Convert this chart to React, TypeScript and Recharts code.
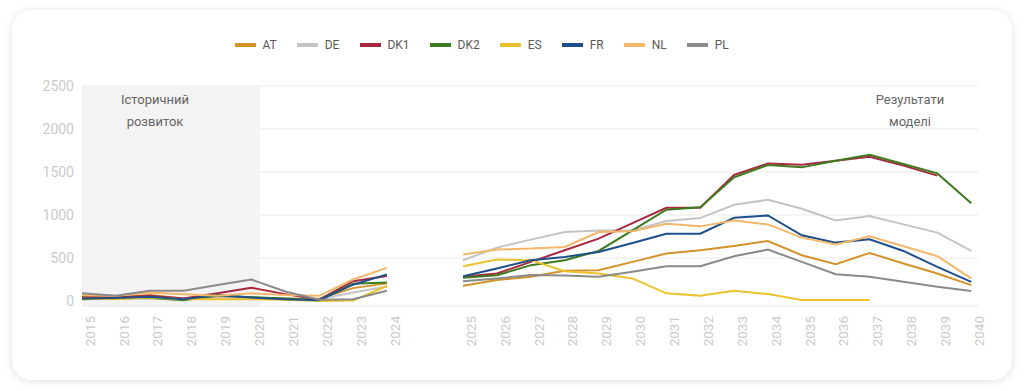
import React from 'react';
import { LineChart, Line, XAxis, YAxis, CartesianGrid, Legend, ReferenceArea } from 'recharts';

// ---- data ----
const histYears = [2015, 2016, 2017, 2018, 2019, 2020, 2021, 2022, 2023, 2024];
const modelYears = [2025, 2026, 2027, 2028, 2029, 2030, 2031, 2032, 2033, 2034, 2035, 2036, 2037, 2038, 2039, 2040];

const seriesNames = ['AT', 'DE', 'DK1', 'DK2', 'ES', 'FR', 'NL', 'PL'];
const seriesColors = ['#D4922A', '#C4C4C4', '#A8283F', '#3E7B1F', '#EBC12C', '#1F4F8A', '#F2B76A', '#8A8A8A'];

const histAT = [55, 45, 70, 30, 55, 40, 30, 25, 150, 205];
const histDE = [30, 30, 40, 30, 40, 30, 20, 20, 100, 170];
const histDK1 = [40, 40, 60, 30, 90, 155, 80, 15, 230, 290];
const histDK2 = [20, 30, 35, 10, 60, 45, 30, 10, 200, 215];
const histES = [30, 20, 40, 20, 20, 20, 15, 0, 5, 175];
const histFR = [30, 35, 50, 20, 70, 40, 20, 10, 190, 310];
const histNL = [70, 60, 100, 80, 60, 90, 70, 60, 250, 385];
const histPL = [90, 60, 120, 120, 185, 250, 110, 15, 20, 120];

const modelAT = [177, 243, 281, 351, 359, 455, 552, 590, 640, 698, 532, 428, 559, 436, 320, 185];
const modelDE = [474, 621, 714, 802, 821, 821, 929, 964, 1119, 1177, 1072, 937, 987, 891, 795, 582];
const modelDK1 = [281, 320, 455, 590, 725, 906, 1084, 1084, 1466, 1600, 1585, 1631, 1678, 1574, 1458, null];
const modelDK2 = [270, 300, 417, 474, 582, 821, 1061, 1090, 1438, 1582, 1554, 1631, 1700, 1593, 1484, 1137];
const modelES = [405, 482, 475, 347, 320, 263, 89, 61, 119, 81, 12, 12, 12, null, null, null];
const modelFR = [289, 378, 474, 513, 571, 675, 783, 783, 968, 995, 764, 679, 717, 582, 397, 223];
const modelNL = [540, 598, 610, 628, 802, 810, 899, 868, 937, 891, 737, 656, 752, 636, 521, 263];
const modelPL = [231, 263, 301, 297, 281, 339, 405, 405, 521, 598, 455, 312, 281, 223, 165, 116];

const yTicks = [0, 500, 1000, 1500, 2000, 2500];
const gridValues = [500, 1000, 1500, 2000, 2500];

const histLabel = ['Історичний', 'розвиток'];
const modelLabel = ['Результати', 'моделі'];

// gap (in year-steps) between the historic block and the model block
const GAP = 2.25;
const histPos = (i: number) => i;
const modelPos = (j: number) => histYears.length - 1 + GAP + j;

const histSeries = [histAT, histDE, histDK1, histDK2, histES, histFR, histNL, histPL];
const modelSeries = [modelAT, modelDE, modelDK1, modelDK2, modelES, modelFR, modelNL, modelPL];

const histData = histYears.map((year, i) => {
  const row: any = { pos: histPos(i), year };
  seriesNames.forEach((n, k) => (row[n] = histSeries[k][i]));
  return row;
});
const modelData = modelYears.map((year, j) => {
  const row: any = { pos: modelPos(j), year };
  seriesNames.forEach((n, k) => (row[n] = modelSeries[k][j]));
  return row;
});
const allRows = [...histData, ...modelData];
const xTicks = allRows.map((r) => r.pos);
const yearAt = (p: number) => {
  const r = allRows.find((row) => Math.abs(row.pos - p) < 1e-6);
  return r ? r.year : '';
};

const FONT = 'Roboto, "Noto Sans", Arial, sans-serif';

const XTick = (props: any) => {
  const { x, y, payload } = props;
  const tx = x + 8;
  return (
    <text
      x={tx}
      y={y}
      transform={`rotate(-90, ${tx}, ${y})`}
      textAnchor="end"
      dy="0.35em"
      fill="#cacaca"
      fontSize={13.5}
      fontFamily={FONT}
    >
      {yearAt(payload.value)}
    </text>
  );
};

const LegendContent = (props: any) => {
  const { payload } = props;
  const seen = new Set<string>();
  const items = (payload || []).filter((p: any) => {
    if (p.type === 'none' || seen.has(p.value)) return false;
    seen.add(p.value);
    return true;
  });
  return (
    <div style={{ display: 'flex', alignItems: 'center', height: 18, fontFamily: FONT }}>
      {items.map((p: any) => (
        <div key={p.value} style={{ display: 'flex', alignItems: 'center', marginRight: 20.5 }}>
          <span style={{ display: 'inline-block', width: 21, height: 3.5, background: p.color, marginRight: 6.5 }} />
          <span style={{ fontSize: 12, color: '#5a5a5a', lineHeight: '18px' }}>{p.value}</span>
        </div>
      ))}
    </div>
  );
};

const annoStyle: React.CSSProperties = {
  position: 'absolute',
  width: 140,
  textAlign: 'center',
  fontFamily: FONT,
  fontSize: 13,
  color: '#666',
  lineHeight: '21.5px',
};

export default function App() {
  return (
    <div style={{ position: 'absolute', left: 0, top: 0, width: 1024, height: 391, background: '#ffffff', overflow: 'hidden' }}>
      <div
        style={{
          position: 'absolute',
          left: 12,
          top: 10,
          width: 1000,
          height: 370,
          borderRadius: 20,
          background: '#fff',
          boxShadow: '0 1px 9px rgba(0,0,0,0.13)',
        }}
      />
      <div style={{ position: 'absolute', left: 0, top: 0 }}>
        <LineChart width={1024} height={391} margin={{ top: 68, right: 46, bottom: 0, left: 0 }}>
          <ReferenceArea x1={histPos(0)} x2={histPos(5) + 0.25} fill="#f3f3f3" fillOpacity={1} stroke="none" ifOverflow="hidden" />
          <CartesianGrid vertical={false} stroke="#e9e9e9" horizontalValues={gridValues} />
          <XAxis
            type="number"
            dataKey="pos"
            domain={[0, 26.45]}
            ticks={xTicks}
            interval={0}
            tick={<XTick />}
            tickLine={false}
            tickSize={0}
            tickMargin={10}
            axisLine={{ stroke: '#e6e6e6' }}
            height={85}
            allowDataOverflow
          />
          <YAxis
            domain={[-58, 2500]}
            ticks={yTicks}
            width={82}
            tickLine={false}
            tickSize={0}
            tickMargin={8}
            axisLine={false}
            tick={{ fill: '#cacaca', fontSize: 14, fontFamily: FONT }}
            allowDataOverflow
          />
          <Legend
            verticalAlign="top"
            align="left"
            content={<LegendContent />}
            wrapperStyle={{ top: 36, left: 235, width: 'auto' }}
          />
          {seriesNames.map((n, k) => (
            <Line
              key={'m' + n}
              data={modelData}
              dataKey={n}
              name={n}
              stroke={seriesColors[k]}
              strokeWidth={2}
              dot={false}
              activeDot={false}
              isAnimationActive={false}
            />
          ))}
          {seriesNames.map((n, k) => (
            <Line
              key={'h' + n}
              data={histData}
              dataKey={n}
              name={n}
              stroke={seriesColors[k]}
              strokeWidth={2}
              dot={false}
              activeDot={false}
              legendType="none"
              isAnimationActive={false}
            />
          ))}
        </LineChart>
      </div>
      <div style={{ ...annoStyle, left: 155 - 70, top: 89 }}>
        {histLabel[0]}
        <br />
        {histLabel[1]}
      </div>
      <div style={{ ...annoStyle, left: 910 - 70, top: 89 }}>
        {modelLabel[0]}
        <br />
        {modelLabel[1]}
      </div>
    </div>
  );
}
